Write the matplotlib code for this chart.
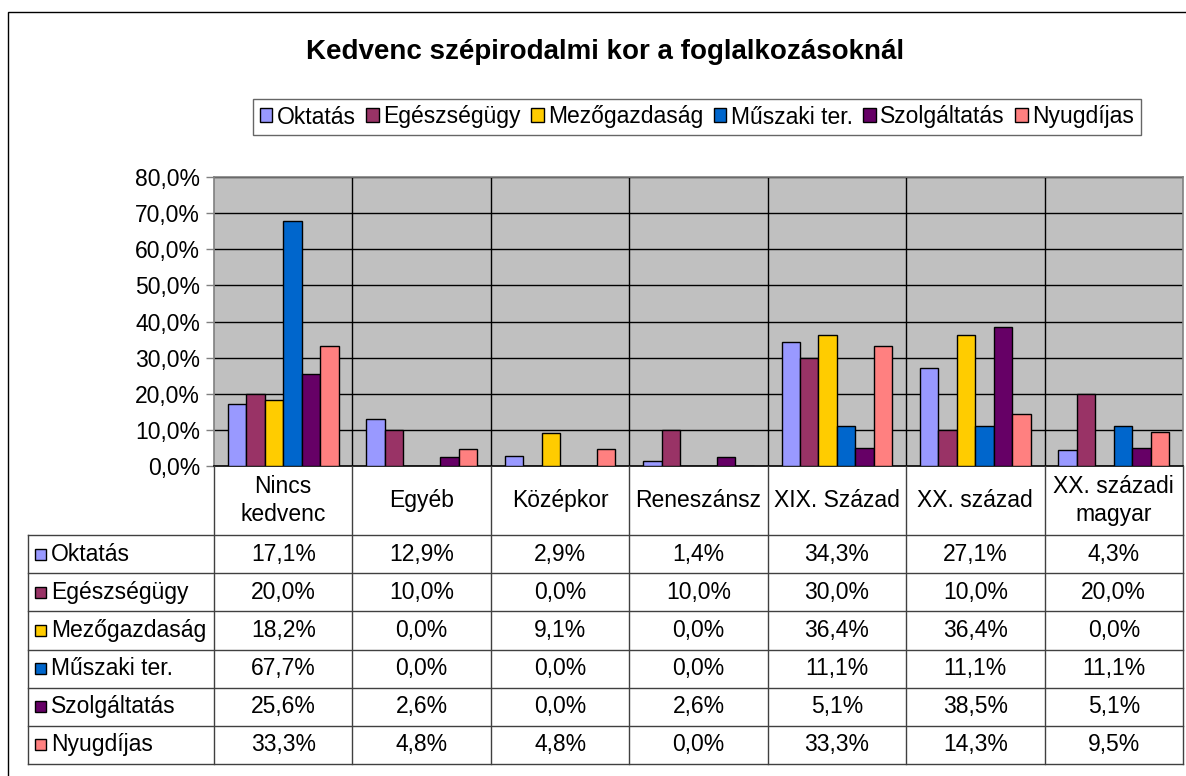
import matplotlib
matplotlib.use("Agg")
import matplotlib.pyplot as plt
import matplotlib.transforms as mtransforms
from matplotlib.patches import Patch, Rectangle
from matplotlib.lines import Line2D
import numpy as np

plt.rcParams['font.family'] = ['Liberation Sans', 'DejaVu Sans']

# data
categories = ["Nincs\nkedvenc", "Egyéb", "Középkor", "Reneszánsz",
              "XIX. Század", "XX. század", "XX. századi\nmagyar"]
series = ["Oktatás", "Egészségügy", "Mezőgazdaság", "Műszaki ter.",
          "Szolgáltatás", "Nyugdíjas"]
oktatas = [17.1, 12.9, 2.9, 1.4, 34.3, 27.1, 4.3]
egeszsegugy = [20.0, 10.0, 0.0, 10.0, 30.0, 10.0, 20.0]
mezogazdasag = [18.2, 0.0, 9.1, 0.0, 36.4, 36.4, 0.0]
muszaki = [67.7, 0.0, 0.0, 0.0, 11.1, 11.1, 11.1]
szolgaltatas = [25.6, 2.6, 0.0, 2.6, 5.1, 38.5, 5.1]
nyugdijas = [33.3, 4.8, 4.8, 0.0, 33.3, 14.3, 9.5]
values = [oktatas, egeszsegugy, mezogazdasag, muszaki, szolgaltatas, nyugdijas]
colors = ["#9999FF", "#993366", "#FFCC00", "#0066CC", "#660066", "#FF8080"]
yticks = [0, 10, 20, 30, 40, 50, 60, 70, 80]

W, H = 1186, 776
fig = plt.figure(figsize=(W / 100, H / 100), dpi=100)
FS = 16.5


def fx(x):
    return x / W


def fy(y):
    return 1 - y / H


# outer frame (right/bottom edges fall outside the picture)
fig.patches.append(Rectangle((fx(8), fy(1000)), fx(1400), fy(12) - fy(1000),
                             transform=fig.transFigure, fill=False,
                             edgecolor="black", linewidth=1.0))

# plot area
left, right, top, bottom = 214, 1183, 177, 466
ax = fig.add_axes([fx(left), fy(bottom), fx(right - left), fy(top) - fy(bottom)])
ax.set_facecolor("#C0C0C0")

n = len(series)
bw = 0.8 / n
x = np.arange(len(categories))
for i, (name, vals, c) in enumerate(zip(series, values, colors)):
    ax.bar(x - 0.4 + bw * (i + 0.5), vals, width=bw, color=c,
           edgecolor="black", linewidth=1.0, label=name, zorder=3)

ax.set_xlim(-0.5, len(categories) - 0.5)
ax.set_ylim(0, 80)
ax.set_yticks(yticks)
ax.set_yticklabels([f"{v:.1f}%".replace(".", ",") for v in yticks], fontsize=FS)
ax.tick_params(axis="y", length=6, width=1, color="#808080", pad=4)
ax.set_xticks([])
for yv in yticks[1:]:
    ax.axhline(yv, color="black", linewidth=1.0, zorder=1)
for xv in np.arange(0.5, len(categories) - 0.5, 1):
    ax.axvline(xv, color="black", linewidth=1.0, zorder=1)
for s in ["top", "right", "left"]:
    ax.spines[s].set_color("#808080")
ax.spines["bottom"].set_color("black")
for s in ax.spines.values():
    s.set_linewidth(1.2)

# title
fig.text(fx(605), fy(52), "Kedvenc szépirodalmi kor a foglalkozásoknál",
         ha="center", va="center", fontsize=20, fontweight="bold")

# legend
handles = [Patch(facecolor=c, edgecolor="black", linewidth=1.0) for c in colors]
leg = fig.legend(handles, series, loc="center",
                 bbox_to_anchor=(fx(697), fy(117)), ncol=n, fontsize=FS,
                 frameon=True, fancybox=False, edgecolor="#404040",
                 handlelength=0.55, handleheight=0.55, handletextpad=0.2,
                 columnspacing=0.45, borderpad=0.3, borderaxespad=0)
leg.get_frame().set_linewidth(1.0)

# data table below plot
trans = mtransforms.blended_transform_factory(ax.transData, fig.transFigure)
row_top = 535
row_h = (764 - 535) / n
tleft = 28
line_c = "#404040"

# header labels
for i, cat in enumerate(categories):
    fig.text(i, fy((bottom + row_top) / 2), cat, transform=trans,
             ha="center", va="center", fontsize=FS, linespacing=1.3)

# vertical lines for header and table
for xv in np.arange(-0.5, len(categories), 1):
    fig.add_artist(Line2D([xv, xv], [fy(bottom), fy(764)], transform=trans,
                          color=line_c, linewidth=1.0))
fig.add_artist(Line2D([fx(tleft), fx(tleft)], [fy(row_top), fy(764)],
                      transform=fig.transFigure, color=line_c, linewidth=1.0))
for r in range(n + 1):
    yy = fy(row_top + r * row_h)
    fig.add_artist(Line2D([fx(tleft), fx(right)], [yy, yy],
                          transform=fig.transFigure, color=line_c, linewidth=1.0))

for r, (name, vals, c) in enumerate(zip(series, values, colors)):
    yc = fy(row_top + (r + 0.5) * row_h)
    fig.patches.append(Rectangle((fx(35), yc - 5.5 / H), 11 / W, 11 / H,
                                 transform=fig.transFigure, facecolor=c,
                                 edgecolor="black", linewidth=1.0))
    fig.text(fx(51), yc, name, ha="left", va="center", fontsize=FS)
    for i, v in enumerate(vals):
        fig.text(i, yc, f"{v:.1f}%".replace(".", ","), transform=trans,
                 ha="center", va="center", fontsize=FS)

fig.savefig("out.png", dpi=100)
